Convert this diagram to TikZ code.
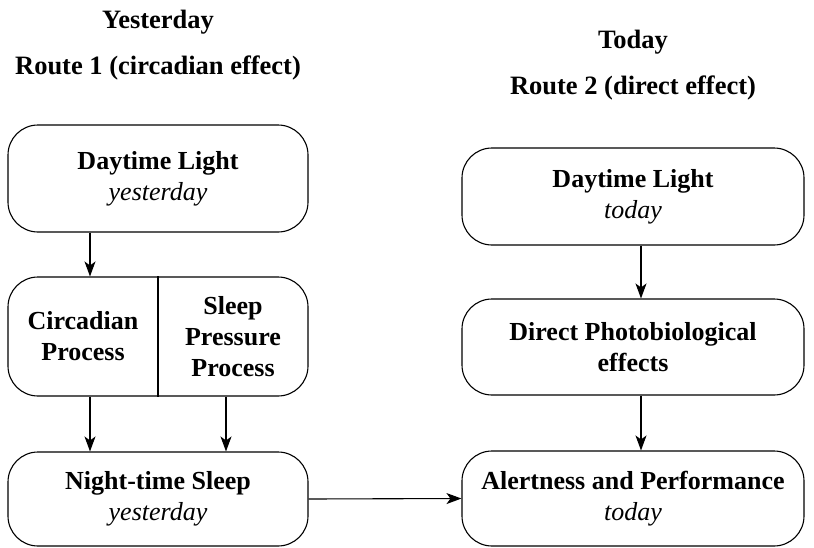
\documentclass[tikz,border=0pt]{standalone}
\usepackage{fontspec}
\setmainfont{Liberation Serif}
\usetikzlibrary{arrows.meta,positioning}
\begin{document}
\begin{tikzpicture}[x=1pt,y=-1pt,
    txt/.style={align=center,inner sep=0pt,font=\fontsize{26}{31}\selectfont\bfseries},
    blk/.style={txt,draw,line width=1.1pt,rounded corners=30pt,minimum width=300pt},
    wide/.style={blk,minimum width=342pt},
    head/.style={font=\fontsize{26.5}{31}\selectfont\bfseries},
    ar/.style={-{Stealth[length=15pt,width=11pt,inset=4pt]},line width=1.1pt}
  ]
  \useasboundingbox (0,0) rectangle (814,547);
  % headings
  \node[head] (yest) at (158,22) {Yesterday};
  \node[head] (route1) at (158,68) {Route 1 (circadian effect)};
  \node[head] (today) at (633,42) {Today};
  \node[head] (route2) at (633,88) {Route 2 (direct effect)};
  % route 1
  \node[blk,minimum height=107pt] (dly) at (158,178.5) {Daytime Light\\{\normalfont\itshape yesterday}};
  \node[blk,minimum height=119pt] (proc) at (158,336.5) {};
  \draw[line width=1.1pt] (proc.north) -- (proc.south);
  \node[txt] (circ) at (83,336.5) {Circadian\\Process};
  \node[txt] (press) at (233,336.5) {Sleep\\Pressure\\Process};
  \node[blk,minimum height=94pt] (nsy) at (158,499) {Night-time Sleep\\{\normalfont\itshape yesterday}};
  % route 2
  \node[wide,minimum height=97pt] (dlt) at (633,196.5) {Daytime Light\\{\normalfont\itshape today}};
  \node[wide,minimum height=96pt] (dpe) at (633,347) {Direct Photobiological\\effects};
  \node[wide,minimum height=95pt] (alt) at (633,498.5) {Alertness and Performance\\{\normalfont\itshape today}};
  % connectors
  \draw[ar] ([xshift=-68pt]dly.south) -- ([xshift=-68pt]proc.north);
  \foreach \s in {-68,68} \draw[ar] ([xshift=\s pt]proc.south) -- ([xshift=\s pt]nsy.north);
  \foreach \a/\b in {dlt/dpe,dpe/alt} \draw[ar] ([xshift=8pt]\a.south) -- ([xshift=8pt]\b.north);
  \draw[ar] (nsy.east) -- (alt.west);
\end{tikzpicture}
\end{document}
